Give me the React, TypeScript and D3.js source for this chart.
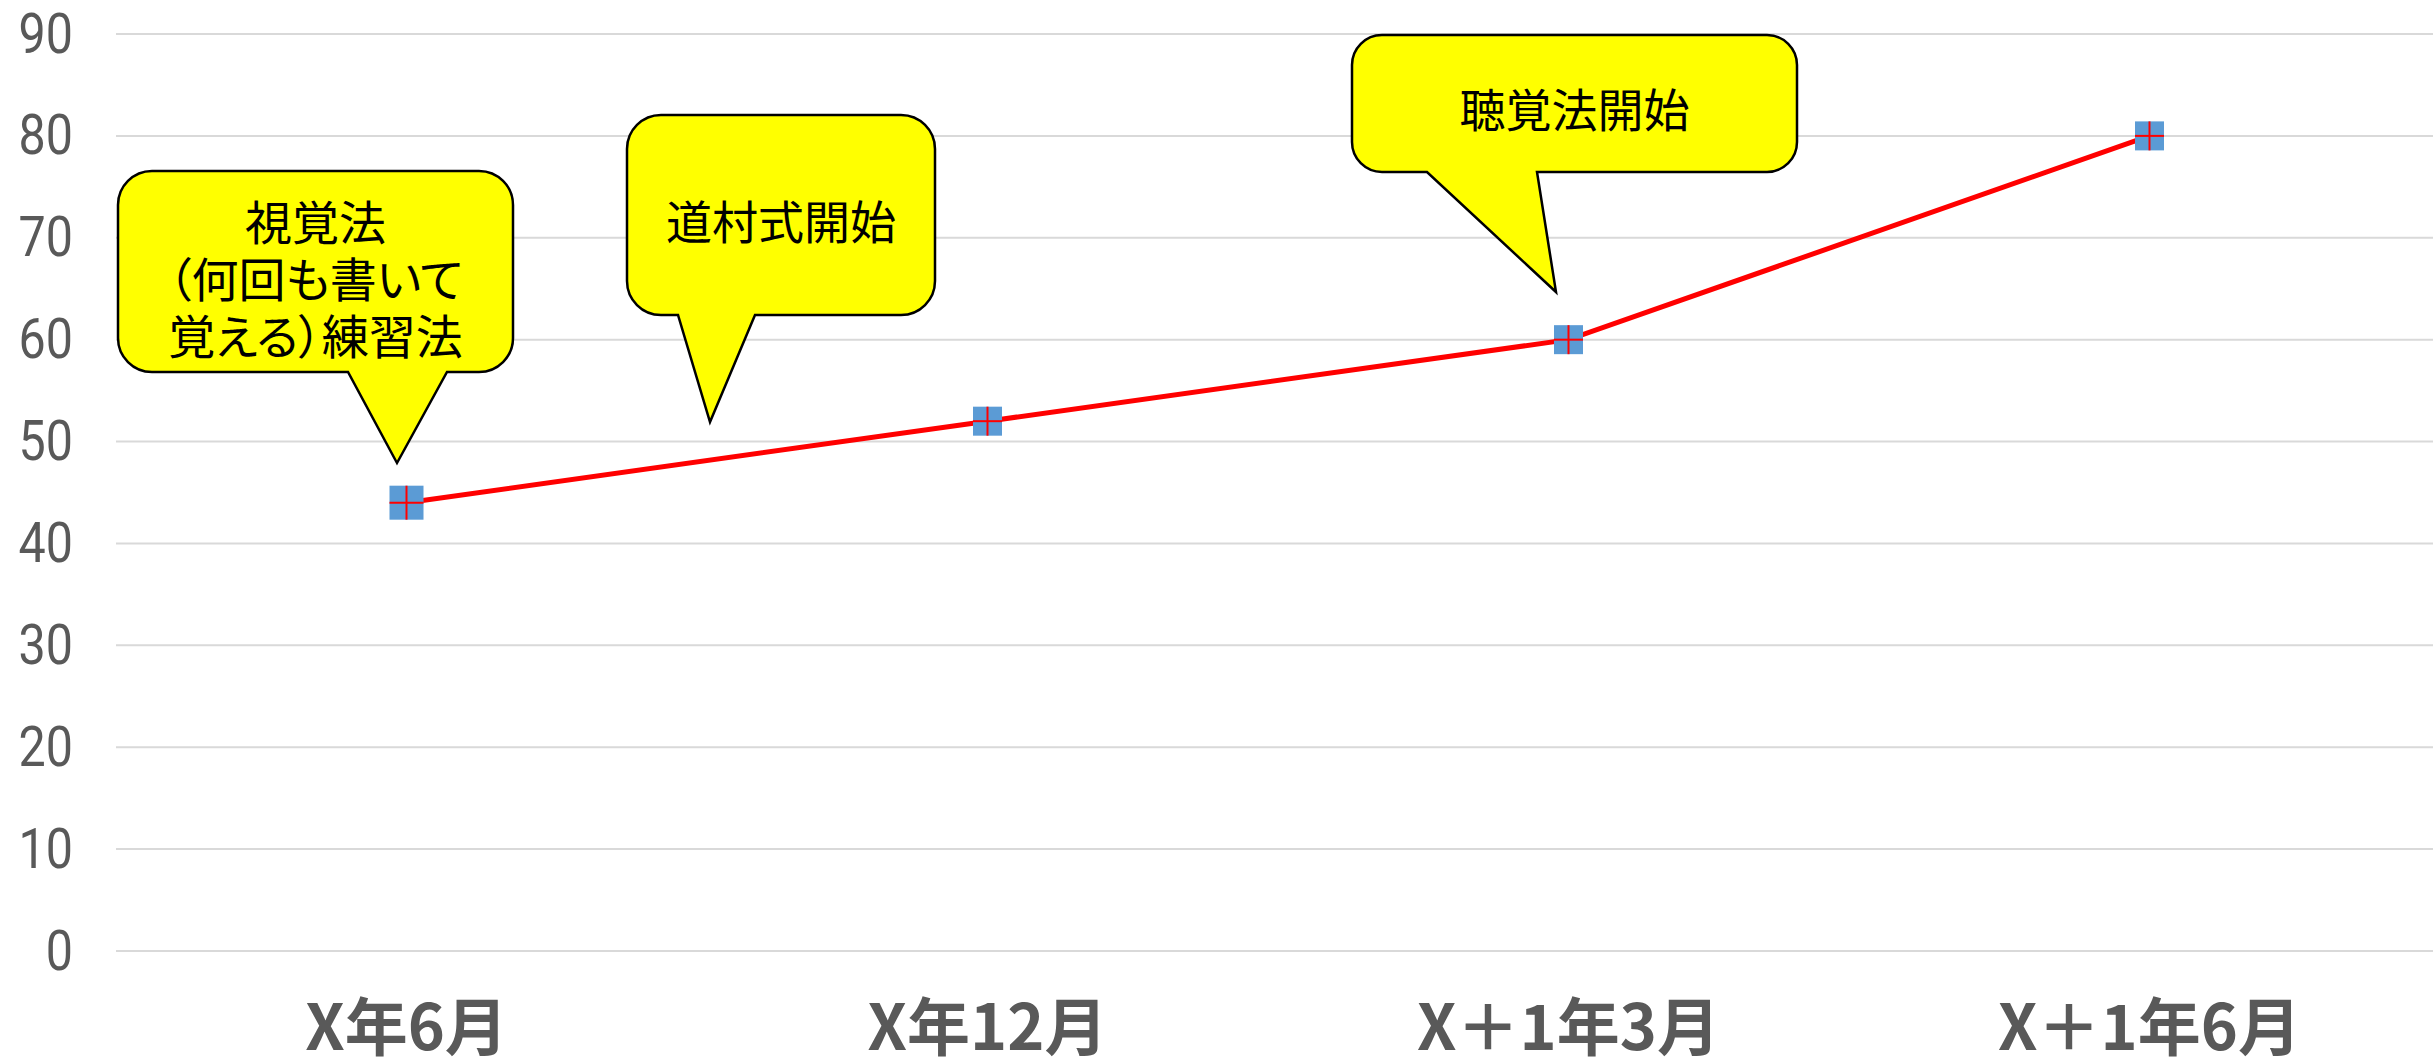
import React from "react";
import * as d3 from "d3";

const categories = ["X年6月", "X年12月", "X＋1年3月", "X＋1年6月"];
const scores = [44, 52, 60, 80];
const yTicks = [0, 10, 20, 30, 40, 50, 60, 70, 80, 90];
const calloutTexts = [
  ["視覚法", "（何回も書いて", "覚える）練習法"],
  ["道村式開始"],
  ["聴覚法開始"],
];

const W = 2433;
const H = 1061;

// callout layout (pixels)
const calloutLayout = [
  { x0: 118, y0: 171, x1: 513, y1: 372, r: 34, t0: 348, t1: 447, tipX: 397, tipY: 463, fs: 47, lh: 57, ty: 219, palt: true },
  { x0: 627, y0: 115, x1: 935, y1: 315, r: 34, t0: 678, t1: 755, tipX: 710, tipY: 422, fs: 46, lh: 57, ty: 219, palt: false },
  { x0: 1352, y0: 35, x1: 1797, y1: 172, r: 30, t0: 1427, t1: 1537, tipX: 1556, tipY: 292, fs: 46, lh: 57, ty: 107, palt: false },
];
const markerSizes = [34, 29, 29, 29];

function calloutPath(c: any) {
  const { x0, y0, x1, y1, r, t0, t1, tipX, tipY } = c;
  return [
    `M${x0 + r},${y0}`,
    `L${x1 - r},${y0}`,
    `A${r},${r} 0 0 1 ${x1},${y0 + r}`,
    `L${x1},${y1 - r}`,
    `A${r},${r} 0 0 1 ${x1 - r},${y1}`,
    `L${t1},${y1}`,
    `L${tipX},${tipY}`,
    `L${t0},${y1}`,
    `L${x0 + r},${y1}`,
    `A${r},${r} 0 0 1 ${x0},${y1 - r}`,
    `L${x0},${y0 + r}`,
    `A${r},${r} 0 0 1 ${x0 + r},${y0}`,
    "Z",
  ].join(" ");
}

export default function App() {
  const x = d3.scaleBand<string>().domain(categories).range([116, 2440]).padding(0);
  const y = d3.scaleLinear().domain([0, 90]).range([951, 34]);
  const cx = (c: string) => (x(c) as number) + x.bandwidth() / 2;
  const pts = categories.map((c, i) => [cx(c), y(scores[i])] as [number, number]);
  const line = d3.line<[number, number]>()(pts) as string;

  return (
    <svg
      width={W}
      height={H}
      style={{ position: "absolute", left: 0, top: 0, background: "#fff" }}
      xmlns="http://www.w3.org/2000/svg"
    >
      <rect x={0} y={0} width={W} height={H} fill="#fff" />
      {yTicks.map((t) => (
        <g key={t}>
          <line x1={116} x2={W} y1={y(t)} y2={y(t)} stroke="#D9D9D9" strokeWidth={2} />
          <text
            x={0}
            y={0}
            transform={`translate(73,${y(t)}) scale(0.88,1)`}
            textAnchor="end"
            dominantBaseline="central"
            fontFamily="Roboto, sans-serif"
            fontSize={55}
            fill="#595959"
          >
            {t}
          </text>
        </g>
      ))}
      {categories.map((c) => (
        <text
          key={c}
          x={cx(c)}
          y={1050}
          textAnchor="middle"
          fontFamily="'Noto Sans CJK JP', sans-serif"
          fontSize={63}
          fontWeight={700}
          fill="#595959"
        >
          {c}
        </text>
      ))}
      <path d={line} fill="none" stroke="#FF0000" strokeWidth={5} />
      {pts.map(([px, py], i) => {
        const s = markerSizes[i];
        return (
          <g key={i}>
            <rect x={px - s / 2} y={py - s / 2} width={s} height={s} fill="#5B9BD5" />
            <line x1={px - s / 2} x2={px + s / 2} y1={py} y2={py} stroke="#FF0000" strokeWidth={2} />
            <line x1={px} x2={px} y1={py - s / 2} y2={py + s / 2} stroke="#FF0000" strokeWidth={2} />
          </g>
        );
      })}
      {calloutLayout.map((c, i) => {
        const lines = calloutTexts[i];
        const midX = (c.x0 + c.x1) / 2;
        return (
          <g key={i}>
            <path d={calloutPath(c)} fill="#FFFF00" stroke="#000" strokeWidth={2.5} strokeLinejoin="miter" />
            {lines.map((ln, j) => (
              <text
                key={j}
                x={midX}
                y={c.ty + j * c.lh}
                textAnchor="middle"
                dominantBaseline="central"
                fontFamily="'Noto Sans CJK JP', sans-serif"
                fontSize={c.fs}
                fill="#000"
                style={c.palt ? { fontFeatureSettings: "'palt' 1" } : undefined}
              >
                {ln}
              </text>
            ))}
          </g>
        );
      })}
    </svg>
  );
}
